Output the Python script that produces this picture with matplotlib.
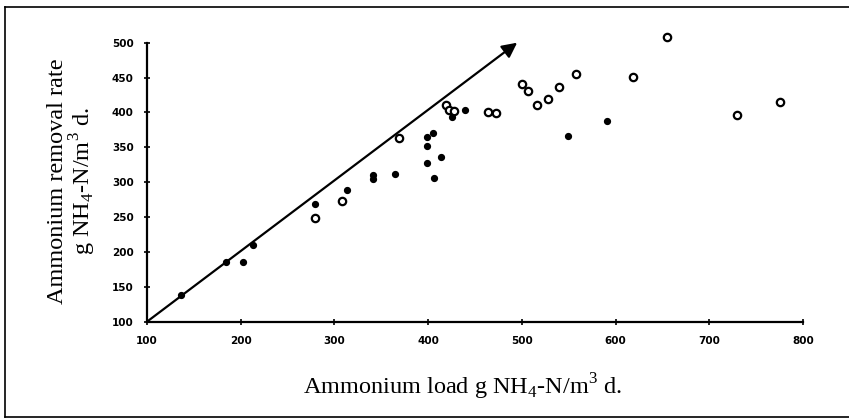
import numpy as np
import matplotlib.pyplot as plt
from matplotlib.lines import Line2D

plt.rcParams["mathtext.fontset"] = "custom"
plt.rcParams["mathtext.rm"] = "Liberation Serif"

# 充填点（filled）
filled_x = [136, 184, 202, 213, 279, 313, 341, 341, 365, 399, 405, 399, 414, 399, 406, 426, 439, 549, 591]
filled_y = [138, 186, 185, 210, 269, 289, 311, 305, 312, 365, 371, 352, 336, 327, 306, 393, 404, 366, 388]

# 白抜き点（open）
open_x = [279, 308, 369, 419, 422, 428, 464, 472, 500, 507, 516, 528, 540, 558, 619, 655, 730, 776]
open_y = [248, 273, 363, 411, 404, 402, 400, 399, 441, 431, 411, 419, 437, 455, 451, 508, 396, 415]

x_ticks = [100, 200, 300, 400, 500, 600, 700, 800]
y_ticks = [100, 150, 200, 250, 300, 350, 400, 450, 500]

arrow_start = (100, 100)
arrow_end = (495, 500)

fig = plt.figure(figsize=(8.49, 4.19), dpi=100)
ax = fig.add_axes([0.1731, 0.2322, 0.7727, 0.6659])

ax.plot(filled_x, filled_y, "o", color="black", markersize=4.2, clip_on=False)
ax.plot(open_x, open_y, "o", markerfacecolor="white", markeredgecolor="black",
        markersize=5.3, markeredgewidth=1.6, clip_on=False)

# 1:1 の矢印
ax.annotate("", xy=arrow_end, xytext=arrow_start,
            arrowprops=dict(arrowstyle="-|>,head_length=0.9,head_width=0.45",
                            color="black", lw=1.6, shrinkA=0, shrinkB=0),
            annotation_clip=False)

ax.set_xlim(100, 800)
ax.set_ylim(100, 500)
ax.set_xticks(x_ticks)
ax.set_yticks(y_ticks)
ax.set_xticklabels([str(v) for v in x_ticks], fontsize=7.5, fontweight="heavy")
ax.set_yticklabels([str(v) for v in y_ticks], fontsize=7.5, fontweight="heavy")
ax.tick_params(axis="both", direction="inout", length=5, width=1.2)
ax.tick_params(axis="x", pad=8)
ax.tick_params(axis="y", pad=7)

for s in ["top", "right"]:
    ax.spines[s].set_visible(False)
for s in ["left", "bottom"]:
    ax.spines[s].set_linewidth(1.6)

# 軸ラベル
fig.text(0.545, 0.076, "Ammonium load g NH$_4$-N/m$^3$ d.", fontsize=17.5,
         family="Liberation Serif", ha="center", va="center")
fig.text(0.085, 0.568, "Ammonium removal rate\ng NH$_4$-N/m$^3$ d.", fontsize=17.5,
         family="Liberation Serif", ha="center", va="center", rotation=90,
         linespacing=1.0, multialignment="center")

# 外枠
for xs, ys in [([0.006, 0.006], [0.005, 0.983]),
               ([0.006, 1.0], [0.983, 0.983]),
               ([0.006, 1.0], [0.005, 0.005])]:
    fig.add_artist(Line2D(xs, ys, transform=fig.transFigure, color="black", lw=1.2))

fig.savefig("out.png", dpi=100)
